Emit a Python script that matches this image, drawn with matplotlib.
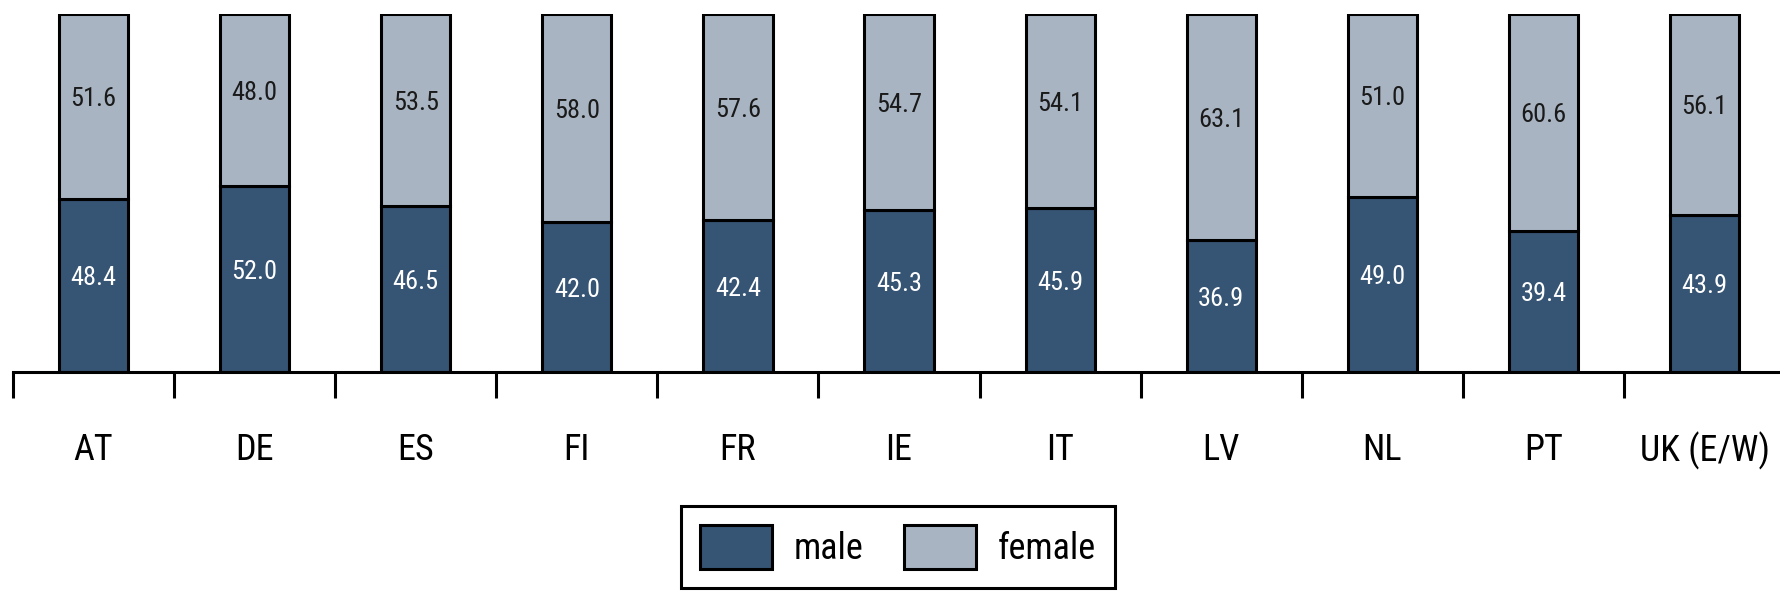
import matplotlib
matplotlib.use("Agg")
import matplotlib.pyplot as plt
from matplotlib import font_manager
from matplotlib.font_manager import FontProperties
from matplotlib.patches import Patch

# ---- pick a condensed sans font if one is installed ----
def pick_condensed():
    pri = ["Roboto", "Noto Sans", "Open Sans", "DejaVu Sans", "Liberation Sans", "Lato", "Inter"]
    cands = []
    for f in font_manager.fontManager.ttflist:
        nm = f.name
        st = str(f.stretch).lower()
        low = (nm + " " + f.fname).lower()
        is_cond = ("condensed" in st and "extra" not in st and "ultra" not in st and "semi" not in st) \
            or ("condensed" in low and "extra" not in low and "semi" not in low and "ultra" not in low) \
            or "narrow" in low
        if not is_cond:
            continue
        if f.style != "normal":
            continue
        w = f.weight if isinstance(f.weight, int) else 400
        if w not in (400, "normal", "regular"):
            continue
        if "mono" in low:
            continue
        rank = len(pri)
        for k, p in enumerate(pri):
            if nm.startswith(p):
                rank = k
                break
        cands.append((rank, f.fname))
    if cands:
        cands.sort()
        return FontProperties(fname=cands[0][1])
    return FontProperties(family=["Roboto", "DejaVu Sans"])

FP = pick_condensed()

categories = ["AT", "DE", "ES", "FI", "FR", "IE", "IT", "LV", "NL", "PT", "UK (E/W)"]
male = [48.4, 52.0, 46.5, 42.0, 42.4, 45.3, 45.9, 36.9, 49.0, 39.4, 43.9]
female = [51.6, 48.0, 53.5, 58.0, 57.6, 54.7, 54.1, 63.1, 51.0, 60.6, 56.1]
series_names = ["male", "female"]

C_MALE = "#365474"
C_FEMALE = "#A8B4C2"

def fp(size):
    p = FP.copy()
    p.set_size(size)
    return p

W, H = 1781, 594
fig = plt.figure(figsize=(W / 100, H / 100), dpi=100)
ax = fig.add_axes([13 / W, 1 - 372 / H, 1 - 13 / W, (372 - 14) / H])

x = list(range(len(categories)))
bw = 0.43
ax.bar(x, male, width=bw, color=C_MALE, edgecolor="black", linewidth=2.2, zorder=2)
ax.bar(x, female, width=bw, bottom=male, color=C_FEMALE, edgecolor="black", linewidth=2.2, zorder=2)

for i in x:
    ax.text(i, male[i] / 2, f"{male[i]:.1f}", ha="center", va="baseline",
            color="white", fontproperties=fp(19), zorder=3)
    ax.text(i, male[i] + female[i] / 2, f"{female[i]:.1f}", ha="center", va="baseline",
            color="#1a1a1a", fontproperties=fp(19), zorder=3)

ax.set_xlim(-0.5, (W - 13) / 161.1 - 0.5)
ax.set_ylim(0, 100)
for s in ["top", "right", "left"]:
    ax.spines[s].set_visible(False)
ax.spines["bottom"].set_linewidth(2.2)
ax.spines["bottom"].set_zorder(4)
ax.set_yticks([])

ax.set_xticks([i - 0.5 for i in x])
ax.set_xticklabels([])
ax.tick_params(axis="x", which="major", direction="out", length=18.7, width=2.2, color="black")
ax.set_xticks(x, minor=True)
ax.set_xticklabels(categories, minor=True)
for lab in ax.get_xticklabels(minor=True):
    lab.set_fontproperties(fp(26))
ax.tick_params(axis="x", which="minor", length=0, pad=43, labelcolor="black")

LS = 26
px = LS * 100 / 72
handles = [Patch(facecolor=C_MALE, edgecolor="black", linewidth=2.2),
           Patch(facecolor=C_FEMALE, edgecolor="black", linewidth=2.2)]
leg = fig.legend(handles, series_names, loc="upper left",
                 bbox_to_anchor=(681 / W, 1 - 506 / H), borderaxespad=0,
                 ncol=2, prop=fp(LS), handlelength=72 / px, handleheight=54 / px,
                 handletextpad=22 / px, columnspacing=40 / px, borderpad=19 / px,
                 frameon=True, fancybox=False, framealpha=1, edgecolor="black")
leg.get_frame().set_linewidth(2.2)

fig.savefig("out.png", dpi=100)
